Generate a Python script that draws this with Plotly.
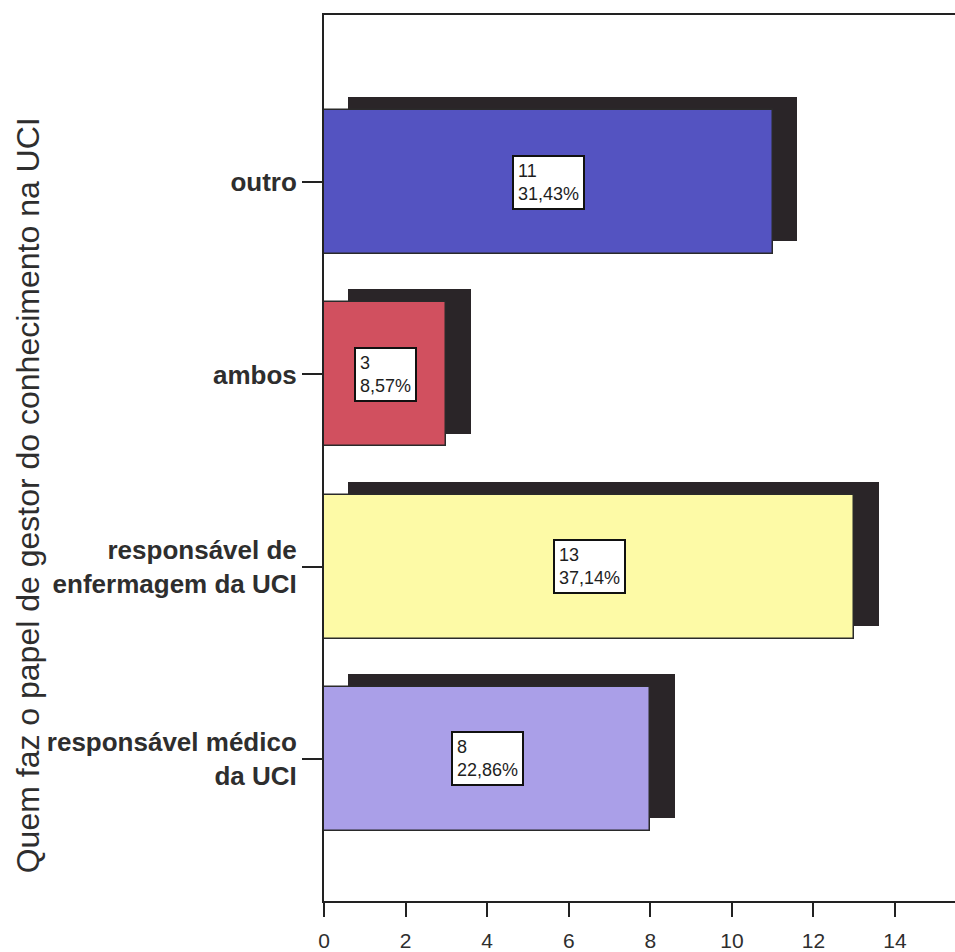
import plotly.graph_objects as go

# Respostas: quem faz o papel de gestor do conhecimento na UCI
categories = ["responsável médico<br>da UCI",
              "responsável de<br>enfermagem da UCI",
              "ambos",
              "outro"]
counts = [8, 13, 3, 11]
bar_colors = ["#aa9fe8", "#fdfaa6", "#d1505f", "#5453c1"]
x_ticks = [0, 2, 4, 6, 8, 10, 12, 14]

total = sum(counts)
percent_labels = [f"{c / total * 100:.2f}".replace(".", ",") + "%" for c in counts]
positions = list(range(len(categories)))

# drop-shadow geometry (axis units)
SHADOW_DX = 0.6
SHADOW_DY = 0.067
BAR_W = 0.75
SHADOW = "#2a2528"
TEXT = "#2e2e2e"
FONT = "Arial, Liberation Sans, sans-serif"

fig = go.Figure()

# dark shadow blocks behind each bar
fig.add_trace(go.Bar(
    orientation="h",
    y=[p + SHADOW_DY for p in positions],
    x=counts,
    base=[SHADOW_DX] * len(counts),
    width=BAR_W,
    marker=dict(color=SHADOW, line=dict(width=0)),
    hoverinfo="skip",
    showlegend=False,
))

# coloured bars
fig.add_trace(go.Bar(
    orientation="h",
    y=positions,
    x=counts,
    base=[0] * len(counts),
    width=BAR_W,
    marker=dict(color=bar_colors, line=dict(color="#2a2a2a", width=1.5)),
    showlegend=False,
))

# boxed count / percentage labels in the middle of each bar
for p, c, pct in zip(positions, counts, percent_labels):
    fig.add_annotation(
        x=c / 2, y=p, xref="x", yref="y",
        text=f"{c}<br>{pct}",
        showarrow=False, align="left",
        font=dict(family=FONT, size=18, color="#1e1e1e"),
        bgcolor="white", bordercolor="#111111", borderwidth=2, borderpad=4,
    )

# vertical axis title
fig.add_annotation(
    x=-0.469, y=0.458, xref="paper", yref="paper",
    text="Quem faz o papel de gestor do conhecimento na UCI",
    textangle=-90, showarrow=False,
    font=dict(family=FONT, size=32, color=TEXT),
    xanchor="center", yanchor="middle",
)

fig.update_layout(
    width=955, height=952,
    margin=dict(l=324, r=0, t=15, b=38),
    paper_bgcolor="white", plot_bgcolor="white",
    barmode="overlay",
    bargap=0,
    font=dict(family=FONT, color=TEXT),
)

fig.update_xaxes(
    range=[0, 15.47],
    tickmode="array", tickvals=x_ticks, ticktext=[str(t) for t in x_ticks],
    ticks="outside", ticklen=14, tickwidth=2, tickcolor="#222222",
    ticklabelstandoff=6,
    showline=True, linecolor="#222222", linewidth=2, mirror=True,
    showgrid=False, zeroline=False,
    tickfont=dict(family=FONT, size=21, color=TEXT),
)

fig.update_yaxes(
    range=[-0.74, 3.87],
    tickmode="array", tickvals=positions,
    ticktext=[f"<b>{c}</b>" for c in categories],
    ticks="outside", ticklen=20, tickwidth=2, tickcolor="#222222",
    showline=True, linecolor="#222222", linewidth=2, mirror=False,
    showgrid=False, zeroline=False,
    tickfont=dict(family=FONT, size=26, color=TEXT),
)

fig.write_html("out.html")
